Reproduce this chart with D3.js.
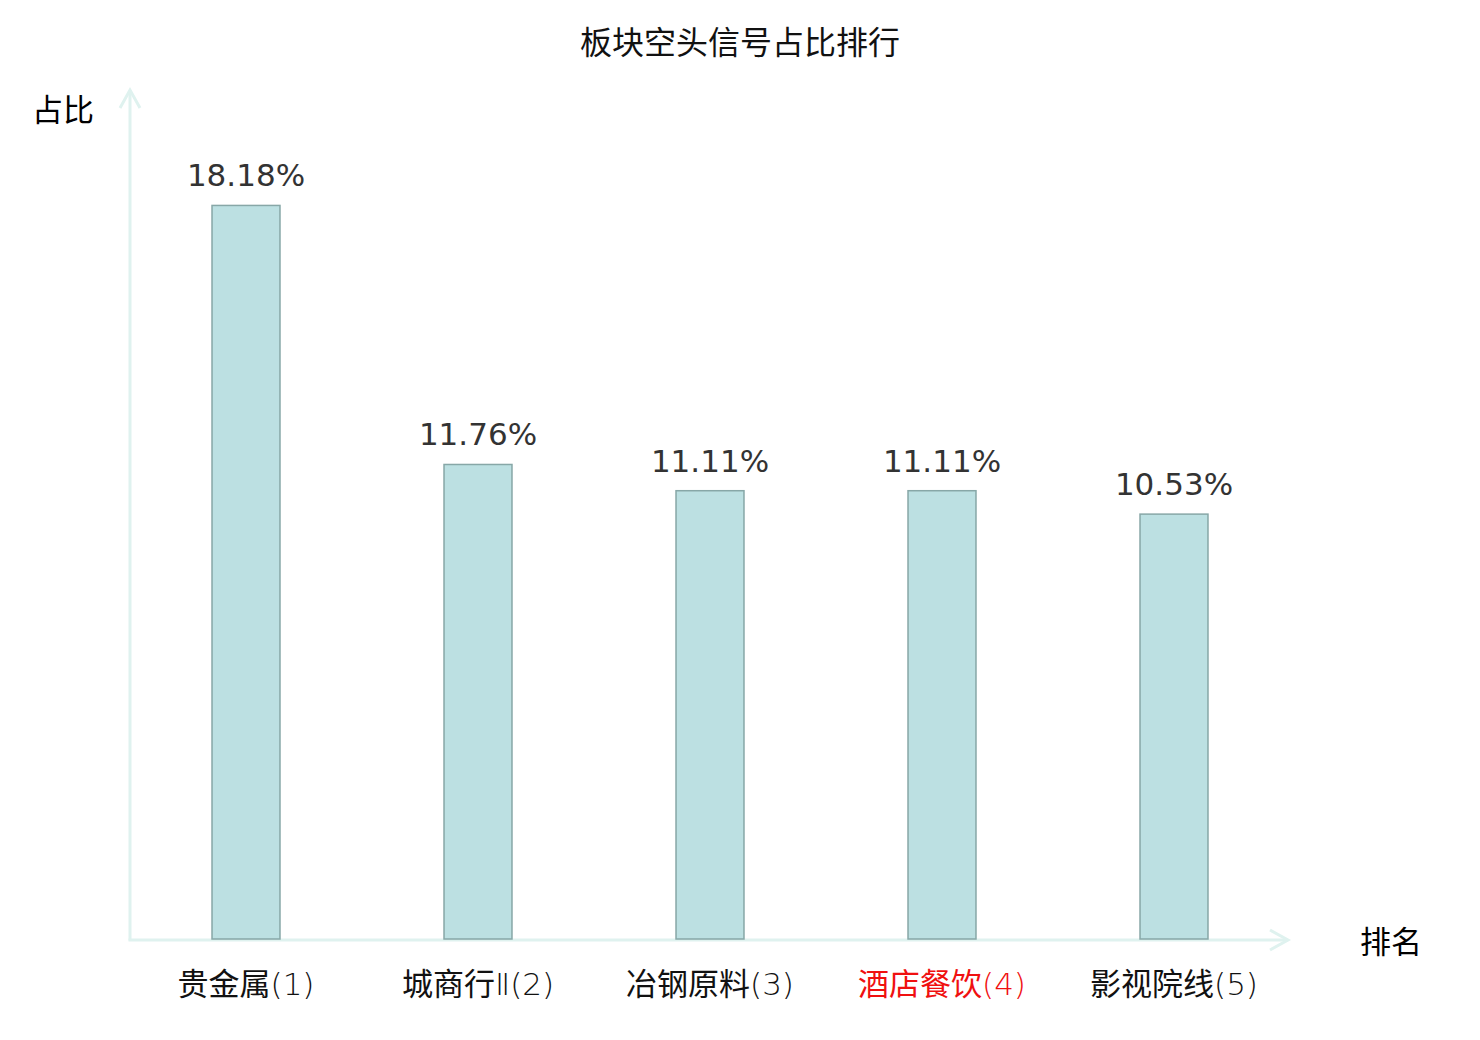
<!DOCTYPE html>
<html>
<head>
<meta charset="utf-8">
<script src="https://cdn.jsdelivr.net/npm/d3@7"></script>
<style>
  body { margin: 0; background: #fff; }
</style>
</head>
<body>
<script>
// data
var sectors = ["贵金属", "城商行Ⅱ", "冶钢原料", "酒店餐饮", "影视院线"];
var ranks = [1, 2, 3, 4, 5];
var shares = [18.18, 11.76, 11.11, 11.11, 10.53];
var highlight = [false, false, false, true, false];

var width = 1480, height = 1040;
var x0 = 130, y0 = 939; // axis origin
var cjk = "'Noto Sans CJK SC', sans-serif";

var svg = d3.select("body").append("svg")
  .attr("width", width)
  .attr("height", height);

var x = d3.scaleBand()
  .domain(sectors)
  .range([x0, 1290])
  .paddingInner(0.707)
  .paddingOuter(0.3535);

var y = d3.scaleLinear()
  .domain([0, 20])
  .range([y0, y0 - 807]);

// title
svg.append("text")
  .attr("x", 740).attr("y", 54)
  .attr("text-anchor", "middle")
  .attr("style", "font-size: 32px; font-family: " + cjk)
  .attr("fill", "#111")
  .text("板块空头信号占比排行");

// axes (arrows)
var axisColor = "#dff2ef";
svg.append("line")
  .attr("x1", x0).attr("y1", y0 + 1.5)
  .attr("x2", x0).attr("y2", 90)
  .attr("stroke", axisColor).attr("stroke-width", 3);
svg.append("path")
  .attr("d", "M" + (x0 - 10) + ",108 L" + x0 + ",90 L" + (x0 + 10) + ",108")
  .attr("fill", "none").attr("stroke", axisColor).attr("stroke-width", 3);

svg.append("line")
  .attr("x1", x0 - 1.5).attr("y1", y0 + 1)
  .attr("x2", 1288).attr("y2", y0 + 1)
  .attr("stroke", axisColor).attr("stroke-width", 3);
svg.append("path")
  .attr("d", "M1270," + (y0 - 9) + " L1288," + (y0 + 1) + " L1270," + (y0 + 11))
  .attr("fill", "none").attr("stroke", axisColor).attr("stroke-width", 3);

// axis names
svg.append("text")
  .attr("x", 63).attr("y", 121)
  .attr("text-anchor", "middle")
  .attr("style", "font-size: 31px; font-family: " + cjk)
  .text("占比");
svg.append("text")
  .attr("x", 1391).attr("y", 953)
  .attr("text-anchor", "middle")
  .attr("style", "font-size: 31px; font-family: " + cjk)
  .text("排名");

// bars
svg.append("g").selectAll("rect")
  .data(shares).enter()
  .append("rect")
  .attr("x", function(d, i) { return x(sectors[i]); })
  .attr("y", function(d) { return y(d); })
  .attr("width", x.bandwidth())
  .attr("height", function(d) { return y0 - y(d); })
  .attr("fill", "#bce0e2")
  .attr("stroke", "#87a7a7")
  .attr("stroke-width", 1.5);

// value labels
svg.append("g").selectAll("text")
  .data(shares).enter()
  .append("text")
  .attr("x", function(d, i) { return x(sectors[i]) + x.bandwidth() / 2; })
  .attr("y", function(d) { return y(d) - 19; })
  .attr("text-anchor", "middle")
  .attr("style", "font-size: 31px; font-family: 'DejaVu Sans', sans-serif")
  .attr("fill", "#333")
  .text(function(d) { return d.toFixed(2) + "%"; });

// category labels: chinese part + thin latin part
var cats = svg.append("g").selectAll("text")
  .data(sectors).enter()
  .append("text")
  .attr("x", function(d) { return x(d) + x.bandwidth() / 2; })
  .attr("y", 995)
  .attr("text-anchor", "middle")
  .attr("style", "font-size: 31px; font-family: " + cjk)
  .attr("fill", function(d, i) { return highlight[i] ? "#f01010" : "#111"; });
cats.append("tspan").text(function(d) { return d.replace(/Ⅱ/g, ""); });
cats.append("tspan")
  .attr("style", "font-family: 'DejaVu Sans', sans-serif; font-weight: 200")
  .text(function(d, i) { return (d.indexOf("Ⅱ") >= 0 ? "Ⅱ" : "") + "(" + ranks[i] + ")"; });
</script>
</body>
</html>
